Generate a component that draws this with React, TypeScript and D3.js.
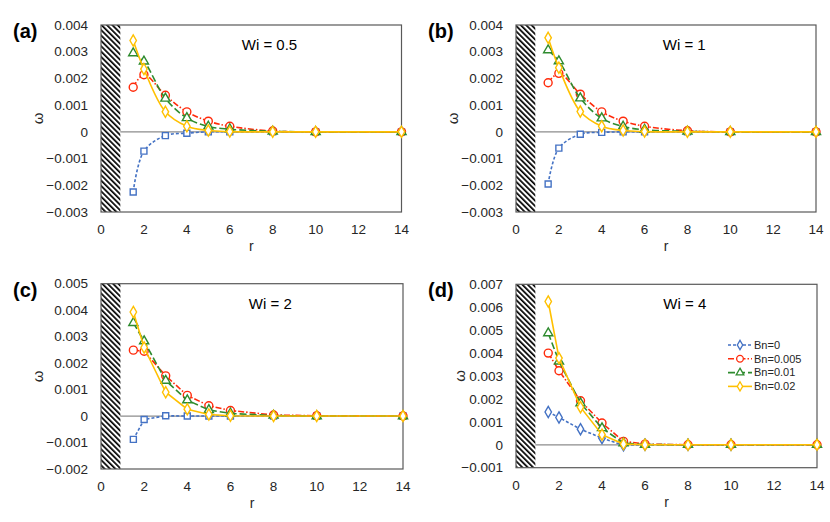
import * as d3 from "d3";

// radial positions sampled in every panel
const radii = [1.5, 2, 3, 4, 5, 6, 8, 10, 14];
const bnLabels = ["Bn=0", "Bn=0.005", "Bn=0.01", "Bn=0.02"];
const xTicks = [0, 2, 4, 6, 8, 10, 12, 14];

// Wi = 0.5
const wi05Bn0 = [-0.00225, -0.00072, -0.00014, -0.00005, 0, 0, 0, 0, 0];
const wi05Bn005 = [0.00167, 0.00214, 0.00137, 0.00075, 0.0004, 0.00021, 0.00003, 0, 0];
const wi05Bn01 = [0.00295, 0.00264, 0.00125, 0.00052, 0.0002, 0.0001, 0.00002, 0, 0];
const wi05Bn02 = [0.00342, 0.00235, 0.00075, 0.00021, 0.00005, 0.00001, 0, 0, 0];

// Wi = 1
const wi1Bn0 = [-0.00195, -0.00061, -0.00009, -0.00002, 0, 0, 0, 0, 0];
const wi1Bn005 = [0.00184, 0.00219, 0.00141, 0.00075, 0.0004, 0.00021, 0.00004, 0, 0];
const wi1Bn01 = [0.00306, 0.00265, 0.00126, 0.00051, 0.0002, 0.00008, 0.00002, 0, 0];
const wi1Bn02 = [0.00352, 0.0024, 0.00076, 0.00021, 0.00005, 0.00001, 0, 0, 0];

// Wi = 2
const wi2Bn0 = [-0.00088, -0.00013, 0.00001, 0, 0, 0, 0, 0, 0];
const wi2Bn005 = [0.00249, 0.00245, 0.00152, 0.00078, 0.00039, 0.00021, 0.00004, 0.00001, 0];
const wi2Bn01 = [0.00352, 0.00283, 0.00134, 0.0006, 0.00023, 0.0001, 0.00002, 0, 0];
const wi2Bn02 = [0.00393, 0.00259, 0.0009, 0.00026, 0.00006, 0.00001, 0, 0, 0];

// Wi = 4
const wi4Bn0 = [0.00143, 0.00119, 0.00068, 0.00029, -0.00002, 0, 0, 0, 0];
const wi4Bn005 = [0.004, 0.00323, 0.00192, 0.00095, 0.00015, 0.00003, 0, 0, 0];
const wi4Bn01 = [0.00487, 0.00364, 0.00182, 0.00073, 0.00007, 0.00001, 0, 0, 0];
const wi4Bn02 = [0.00625, 0.00378, 0.00164, 0.00044, 0.00003, 0, 0, 0, 0];

const colors = ["#4472C4", "#FF2A0A", "#2E8B2E", "#FFC000"];
const dashes = ["3,2", "6,2,1.5,2", "7,3", null];

type Marker = "square" | "circle" | "triangle" | "diamond";

const panels = [
  {
    label: "(a)", wi: "Wi = 0.5", yMin: -0.003, yMax: 0.004,
    left: 101, right: 401.5, top: 25, bottom: 212, smooth: true,
    series: [wi05Bn0, wi05Bn005, wi05Bn01, wi05Bn02], firstMarker: "square" as Marker,
    yLabelDx: 63, legend: false,
  },
  {
    label: "(b)", wi: "Wi = 1", yMin: -0.003, yMax: 0.004,
    left: 516, right: 816, top: 25, bottom: 212, smooth: true,
    series: [wi1Bn0, wi1Bn005, wi1Bn01, wi1Bn02], firstMarker: "square" as Marker,
    yLabelDx: 63, legend: false,
  },
  {
    label: "(c)", wi: "Wi = 2", yMin: -0.002, yMax: 0.005,
    left: 101, right: 403, top: 283.7, bottom: 469, smooth: false,
    series: [wi2Bn0, wi2Bn005, wi2Bn01, wi2Bn02], firstMarker: "square" as Marker,
    yLabelDx: 63, legend: false,
  },
  {
    label: "(d)", wi: "Wi = 4", yMin: -0.001, yMax: 0.007,
    left: 516, right: 817, top: 284.3, bottom: 467.7, smooth: false,
    series: [wi4Bn0, wi4Bn005, wi4Bn01, wi4Bn02], firstMarker: "diamond" as Marker,
    yLabelDx: 56, legend: true,
  },
];

const font = "'Liberation Sans', Arial, sans-serif";

function markerPath(type: Marker, size: number) {
  const sym =
    type === "square" ? d3.symbolSquare
    : type === "circle" ? d3.symbolCircle
    : type === "triangle" ? d3.symbolTriangle
    : d3.symbolDiamond;
  return d3.symbol(sym, size)()!;
}

const markerSizes: Record<Marker, number> = { square: 36, circle: 50, triangle: 36, diamond: 36 };

function Panel({ p }: { p: (typeof panels)[number] }) {
  const x = d3.scaleLinear().domain([0, 14]).range([p.left, p.right]);
  const y = d3.scaleLinear().domain([p.yMin, p.yMax]).range([p.bottom, p.top]);
  const yTicks = d3.range(Math.round((p.yMax - p.yMin) / 0.001) + 1).map((i) => p.yMin + i * 0.001);
  const fmt = (v: number) => (Math.abs(v) < 1e-9 ? "0" : d3.format(".3f")(v));
  const markers: Marker[] = [p.firstMarker, "circle", "triangle", "diamond"];
  const line = d3
    .line<number>()
    .x((_, i) => x(radii[i]))
    .y((d) => y(d))
    .curve(p.smooth ? d3.curveCatmullRom.alpha(0.5) : d3.curveLinear);
  const hatchEnd = x(0.9);
  const omegaX = p.left - p.yLabelDx;
  const omegaY = (p.top + p.bottom) / 2;

  return (
    <g>
      <rect x={p.left} y={p.top} width={p.right - p.left} height={p.bottom - p.top} fill="#fff" />
      <rect x={p.left} y={p.top} width={hatchEnd - p.left} height={p.bottom - p.top} fill="url(#hatch)" />
      <line x1={hatchEnd} x2={p.right} y1={y(0)} y2={y(0)} stroke="#8c8c8c" strokeWidth={1.2} />
      <rect
        x={p.left} y={p.top} width={p.right - p.left} height={p.bottom - p.top}
        fill="none" stroke="#595959" strokeWidth={1.2}
      />
      {yTicks.map((t) => (
        <text key={t} x={p.left - 13} y={y(t)} dy="0.35em" textAnchor="end" fontSize={13.5} fontFamily={font} fill="#262626">
          {fmt(t)}
        </text>
      ))}
      {xTicks.map((t) => (
        <text key={t} x={x(t)} y={p.bottom + 22} textAnchor="middle" fontSize={13.5} fontFamily={font} fill="#262626">
          {t}
        </text>
      ))}
      <text x={(p.left + p.right) / 2} y={p.bottom + 39} textAnchor="middle" fontSize={14} fontFamily={font} fill="#262626">
        r
      </text>
      <text
        x={omegaX} y={omegaY} dy="0.35em" textAnchor="middle" fontSize={15} fontFamily={font} fill="#262626"
        transform={`rotate(-90,${omegaX},${omegaY})`}
      >
        ω
      </text>
      <text x={p.left - 88} y={p.top + 13} fontSize={20} fontWeight="bold" fontFamily={font} fill="#000">
        {p.label}
      </text>
      <text x={x(7.85)} y={p.top + 25} textAnchor="middle" fontSize={15} fontFamily={font} fill="#000">
        {p.wi}
      </text>
      {p.series.map((s, si) => (
        <g key={si}>
          <path
            d={line(s)!}
            fill="none"
            stroke={colors[si]}
            strokeWidth={1.6}
            strokeDasharray={dashes[si] ?? undefined}
          />
          {s.map((v, i) => (
            <path
              key={i}
              d={markerPath(markers[si], markerSizes[markers[si]])}
              transform={`translate(${x(radii[i])},${y(v)})`}
              fill="#fff"
              stroke={colors[si]}
              strokeWidth={1.4}
            />
          ))}
        </g>
      ))}
      {p.legend &&
        bnLabels.map((lab, si) => {
          const ly = 345 + si * 13.8;
          const lx = 728;
          return (
            <g key={lab}>
              <line x1={lx} x2={lx + 24} y1={ly} y2={ly} stroke={colors[si]} strokeWidth={1.6} strokeDasharray={dashes[si] ?? undefined} />
              <path
                d={markerPath(markers[si], markerSizes[markers[si]] * 0.7)}
                transform={`translate(${lx + 12},${ly})`}
                fill="#fff"
                stroke={colors[si]}
                strokeWidth={1.3}
              />
              <text x={lx + 26} y={ly} dy="0.35em" fontSize={11} fontFamily={font} fill="#262626">
                {lab}
              </text>
            </g>
          );
        })}
    </g>
  );
}

export default function App() {
  return (
    <svg
      width={830}
      height={522}
      viewBox="0 0 830 522"
      style={{ position: "absolute", left: 0, top: 0, background: "#fff" }}
    >
      <defs>
        <pattern id="hatch" width={3.8} height={3.8} patternUnits="userSpaceOnUse" patternTransform="rotate(-45)">
          <rect width={3.8} height={3.8} fill="#fff" />
          <rect width={1.7} height={3.8} fill="#000" />
        </pattern>
      </defs>
      {panels.map((p) => (
        <Panel key={p.label} p={p} />
      ))}
    </svg>
  );
}
